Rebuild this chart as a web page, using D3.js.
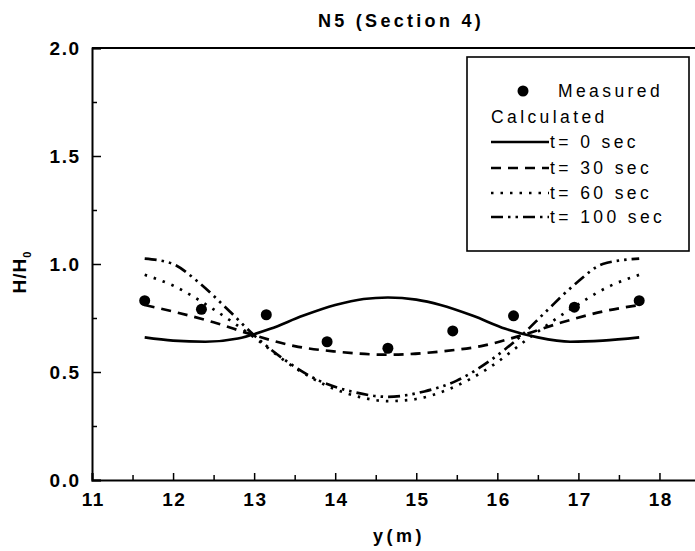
<!DOCTYPE html>
<html><head><meta charset="utf-8">
<script src="https://cdn.jsdelivr.net/npm/d3@7"></script>
<style>body{margin:0;background:#fff}svg{display:block}text{font-family:"Liberation Sans",Arial,sans-serif;fill:#000}</style>
</head><body><svg id="c" width="695" height="551"></svg>
<script>
const xTicks=[11,12,13,14,15,16,17,18];
const yTicks=[0,0.5,1.0,1.5,2.0];
const measuredX=[11.65,12.35,13.15,13.9,14.65,15.45,16.2,16.95,17.75];
const measuredY=[0.83,0.79,0.765,0.64,0.61,0.69,0.76,0.80,0.83];
const t0X=[11.65,12.0,12.4,12.8,13.2,13.6,14.0,14.35,14.65,15.0,15.3,15.7,16.1,16.5,16.9,17.3,17.75];
const t0Y=[0.66,0.645,0.64,0.655,0.70,0.76,0.81,0.838,0.845,0.835,0.81,0.76,0.70,0.66,0.64,0.645,0.66];
const t30X=[11.65,12.0,12.5,13.0,13.5,14.0,14.65,15.3,15.8,16.3,16.8,17.3,17.75];
const t30Y=[0.81,0.78,0.73,0.67,0.62,0.595,0.58,0.595,0.62,0.67,0.73,0.78,0.81];
const t60X=[11.65,12.0,12.5,13.0,13.5,14.0,14.35,14.65,15.0,15.4,15.9,16.4,16.9,17.4,17.75];
const t60Y=[0.95,0.90,0.79,0.66,0.52,0.42,0.38,0.365,0.375,0.42,0.52,0.66,0.79,0.90,0.95];
const t100X=[11.65,12.0,12.3,12.7,13.0,13.4,13.8,14.2,14.65,15.1,15.5,15.9,16.3,16.6,17.0,17.3,17.75];
const t100Y=[1.025,1.0,0.92,0.78,0.67,0.55,0.46,0.41,0.385,0.41,0.46,0.55,0.67,0.78,0.92,1.0,1.025];
const legendLabels=["Measured","Calculated","t= 0 sec","t= 30 sec","t= 60 sec","t= 100 sec"];

const svg=d3.select("#c");
const x=d3.scaleLinear().domain([11,18.5]).range([92,700]);
const y=d3.scaleLinear().domain([0,2]).range([480,48]);

// frame
svg.append("line").attr("x1",92).attr("x2",700).attr("y1",48).attr("y2",48).attr("stroke","#000").attr("stroke-width",2);
// x axis
const xa=svg.append("g").attr("transform","translate(0,480)")
 .call(d3.axisBottom(x).tickValues(d3.range(11,18.51,0.5)).tickSize(-7).tickFormat(""));
xa.selectAll(".tick line").attr("stroke-width",1.5).filter(d=>d%1!==0).attr("y2",-5);
xa.select(".domain").attr("stroke-width",2);
svg.append("g").attr("transform","translate(0.8,480)")
 .call(d3.axisBottom(x).tickValues(xTicks).tickSize(0).tickPadding(12.5).tickFormat(d3.format("d")))
 .call(g=>g.select(".domain").remove())
 .selectAll("text").attr("font-size",19).attr("font-weight","bold").attr("letter-spacing",1.5)
 .attr("font-family","Liberation Sans, Arial").attr("dy","0.71em");
// y axis
const ya=svg.append("g").attr("transform","translate(92,0)")
 .call(d3.axisLeft(y).tickValues(d3.range(0,2.01,0.25)).tickSize(-9).tickFormat(""));
ya.selectAll(".tick line").attr("stroke-width",1.5).filter(d=>Math.abs(d*2-Math.round(d*2))>0.01).attr("x2",5);
ya.select(".domain").attr("stroke-width",2);
svg.append("g").attr("transform","translate(92,0)")
 .call(d3.axisLeft(y).tickValues(yTicks).tickSize(0).tickPadding(11.5).tickFormat(d3.format(".1f")))
 .call(g=>g.select(".domain").remove())
 .selectAll("text").attr("font-size",19).attr("font-weight","bold").attr("letter-spacing",1.5)
 .attr("font-family","Liberation Sans, Arial");

// title & labels
svg.append("text").attr("x",401).attr("y",27).attr("text-anchor","middle").attr("font-size",18).attr("font-weight","bold").attr("letter-spacing",3.3).text("N5 (Section 4)");
svg.append("text").attr("x",399).attr("y",542).attr("text-anchor","middle").attr("font-size",18).attr("font-weight","bold").attr("letter-spacing",3.5).text("y(m)");
const yl=svg.append("text").attr("transform","translate(26,272) rotate(-90)").attr("text-anchor","middle").attr("font-size",19).attr("font-weight","bold").attr("letter-spacing",1);
yl.append("tspan").text("H/H");
yl.append("tspan").attr("font-size",11).attr("dy",5).text("0");

// curves
const series=[
 {X:t0X,Y:t0Y,dash:null},
 {X:t30X,Y:t30Y,dash:"10,7"},
 {X:t60X,Y:t60Y,dash:"2.5,7"},
 {X:t100X,Y:t100Y,dash:"12,5,2.5,5,2.5,5"}
];
const line=d3.line().x(d=>x(d[0])).y(d=>y(d[1])).curve(d3.curveMonotoneX);
series.forEach(s=>{
 svg.append("path").attr("d",line(s.X.map((v,i)=>[v,s.Y[i]]))).attr("fill","none")
  .attr("stroke","#000").attr("stroke-width",2.7).attr("stroke-dasharray",s.dash);
});
svg.selectAll("circle.m").data(measuredX).enter().append("circle").attr("class","m")
 .attr("cx",d=>x(d)).attr("cy",(d,i)=>y(measuredY[i])).attr("r",5.5).attr("fill","#000");

// legend
const lg=svg.append("g");
lg.append("rect").attr("x",467).attr("y",57).attr("width",222).attr("height",194).attr("fill","#fff").attr("stroke","#000").attr("stroke-width",1.6);
lg.append("circle").attr("cx",523).attr("cy",91).attr("r",5.5).attr("fill","#000");
const lt=(tx,ty,s)=>lg.append("text").attr("x",tx).attr("y",ty).attr("font-size",17.5).attr("letter-spacing",3.4).text(s);
lt(558,97,legendLabels[0]);
lt(491,123,legendLabels[1]);
const ly=[142,168,193,217];
series.forEach((s,i)=>{
 lg.append("line").attr("x1",491).attr("x2",549).attr("y1",ly[i]).attr("y2",ly[i]).attr("stroke","#000").attr("stroke-width",2.7).attr("stroke-dasharray",s.dash);
 lt(550,ly[i]+6,legendLabels[i+2]);
});
</script></body></html>
